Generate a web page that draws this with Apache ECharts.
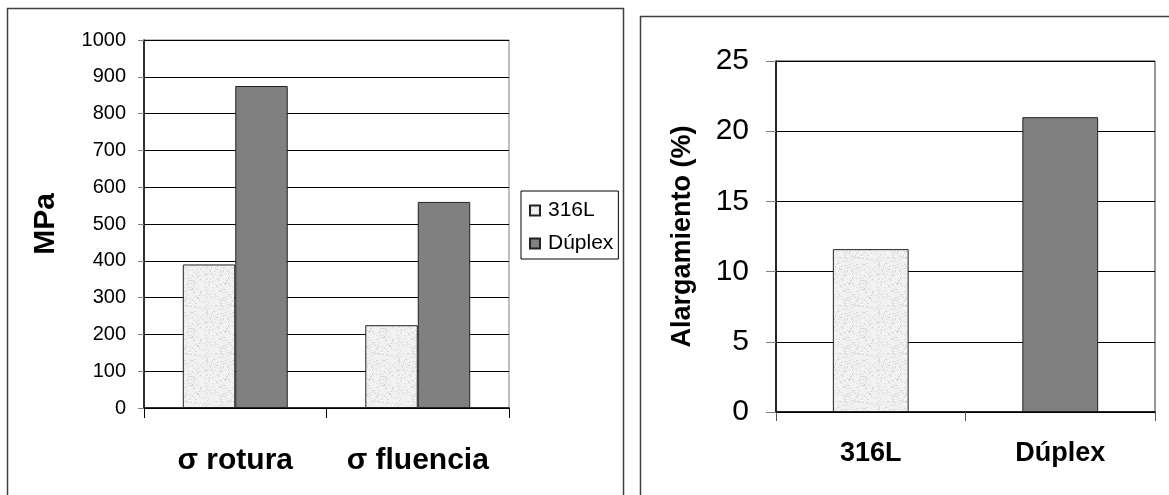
<!DOCTYPE html>
<html><head><meta charset="utf-8">
<script src="https://cdn.jsdelivr.net/npm/echarts@6/dist/echarts.min.js"></script>
<style>html,body{margin:0;padding:0;background:#fff}#c{width:1169px;height:495px}</style>
</head><body><div id="c"></div>
<script>
// ---- data ----
const stressCategories = ['σ rotura', 'σ fluencia'];
const seriesNames = ['316L', 'Dúplex'];
const stress316L = [390, 225];
const stressDuplex = [875, 560];
const stressAxisMin = 0, stressAxisMax = 1000, stressAxisStep = 100;
const stressAxisName = 'MPa';

const elongCategories = ['316L', 'Dúplex'];
const elongValues = [11.6, 21];
const elongAxisMin = 0, elongAxisMax = 25, elongAxisStep = 5;
const elongAxisName = 'Alargamiento (%)';

// ---- styles ----
const FONT = 'Liberation Sans, Arial, sans-serif';

// speckled light-gray fill (deterministic hash texture, purely decorative)
function makeTexture() {
  const s = 48;
  const cv = document.createElement('canvas');
  cv.width = s; cv.height = s;
  const ctx = cv.getContext('2d');
  const img = ctx.createImageData(s, s);
  for (let y = 0; y < s; y++) {
    for (let x = 0; x < s; x++) {
      let h = (x * 374761393 + y * 668265263) | 0;
      h = Math.imul(h ^ (h >>> 13), 1274126177);
      h = (h ^ (h >>> 16)) >>> 0;
      const t = (h % 1000) / 1000;
      const g = t < 0.12 ? 205 + Math.floor(t * 150) : 232 + Math.floor(t * 16);
      const i = (y * s + x) * 4;
      img.data[i] = g; img.data[i + 1] = g; img.data[i + 2] = g; img.data[i + 3] = 255;
    }
  }
  ctx.putImageData(img, 0, 0);
  return cv;
}
const colLight = {image: makeTexture(), repeat: 'repeat'};
const colDark = '#808080';
const barColors = [colLight, colDark];

const chart = echarts.init(document.getElementById('c'), null, {renderer: 'canvas'});
chart.setOption({
  animation: false,
  backgroundColor: '#fff',
  textStyle: {fontFamily: FONT, color: '#000'},
  graphic: [
    {type: 'rect', shape: {x: 7.5, y: 8.5, width: 616, height: 520}, style: {fill: 'none', stroke: '#404040', lineWidth: 1.5}, z: 0},
    {type: 'rect', shape: {x: 640.5, y: 16.5, width: 620, height: 520}, style: {fill: 'none', stroke: '#404040', lineWidth: 1.5}, z: 0}
  ],
  legend: {
    data: seriesNames,
    orient: 'vertical',
    left: 521, top: 191,
    padding: [9, 5, 5, 8],
    itemGap: 12,
    itemWidth: 10, itemHeight: 10,
    icon: 'rect',
    borderColor: '#000', borderWidth: 1,
    backgroundColor: '#fff',
    textStyle: {fontFamily: FONT, fontSize: 21, color: '#000', lineHeight: 20, padding: [0, 0, 0, 3]}
  },
  grid: [
    {left: 144, top: 40, width: 365, height: 368, show: true, borderColor: '#808080', borderWidth: 1, backgroundColor: 'transparent'},
    {left: 776, top: 61, width: 379, height: 351, show: true, borderColor: '#333', borderWidth: 1, backgroundColor: 'transparent'}
  ],
  xAxis: [
    {type: 'category', gridIndex: 0, data: stressCategories,
     axisLine: {lineStyle: {color: '#000', width: 1.5}},
     axisTick: {show: true, length: 10, lineStyle: {color: '#000'}},
     axisLabel: {interval: 0, hideOverlap: false, fontFamily: FONT, fontSize: 30, fontWeight: 'bold', color: '#000', margin: 38}},
    {type: 'category', gridIndex: 1, data: elongCategories,
     axisLine: {lineStyle: {color: '#000', width: 1.5}},
     axisTick: {show: true, length: 9, lineStyle: {color: '#555'}},
     axisLabel: {interval: 0, hideOverlap: false, fontFamily: FONT, fontSize: 27, fontWeight: 'bold', color: '#000', margin: 28}}
  ],
  yAxis: [
    {type: 'value', gridIndex: 0, min: stressAxisMin, max: stressAxisMax, interval: stressAxisStep,
     name: stressAxisName, nameLocation: 'middle', nameRotate: 90, nameGap: 83,
     nameTextStyle: {fontFamily: FONT, fontSize: 30, fontWeight: 'bold', color: '#000'},
     axisLine: {show: true, lineStyle: {color: '#000', width: 1.5}},
     axisTick: {show: true, length: 6, lineStyle: {color: '#808080'}},
     axisLabel: {fontFamily: FONT, fontSize: 20, color: '#000', margin: 18, formatter: v => String(v)},
     splitLine: {show: true, lineStyle: {color: '#000', width: 1}}},
    {type: 'value', gridIndex: 1, min: elongAxisMin, max: elongAxisMax, interval: elongAxisStep,
     name: elongAxisName, nameLocation: 'middle', nameRotate: 90, nameGap: 80,
     nameTextStyle: {fontFamily: FONT, fontSize: 27, fontWeight: 'bold', color: '#000'},
     axisLine: {show: true, lineStyle: {color: '#000', width: 1.5}},
     axisTick: {show: true, length: 10, lineStyle: {color: '#808080'}},
     axisLabel: {fontFamily: FONT, fontSize: 30, color: '#000', margin: 27, formatter: v => String(v)},
     splitLine: {show: true, lineStyle: {color: '#000', width: 1}}}
  ],
  series: [
    {name: seriesNames[0], type: 'bar', xAxisIndex: 0, yAxisIndex: 0, data: stress316L,
     barGap: '0%', barCategoryGap: '42.5%',
     itemStyle: {color: colLight, borderColor: '#222', borderWidth: 1}},
    {name: seriesNames[1], type: 'bar', xAxisIndex: 0, yAxisIndex: 0, data: stressDuplex,
     barGap: '0%', barCategoryGap: '42.5%',
     itemStyle: {color: colDark, borderColor: '#222', borderWidth: 1}},
    {name: elongAxisName, type: 'bar', xAxisIndex: 1, yAxisIndex: 1,
     data: elongValues.map((v, i) => ({value: v, itemStyle: {color: barColors[i]}})),
     barCategoryGap: '60%',
     itemStyle: {borderColor: '#222', borderWidth: 1}}
  ]
});
</script></body></html>
